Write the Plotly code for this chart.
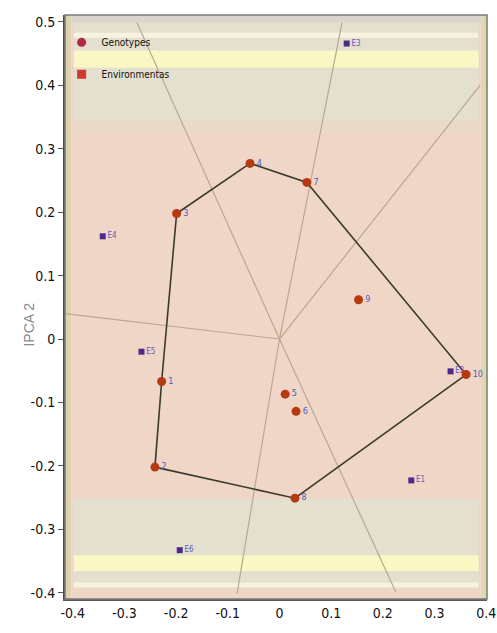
import plotly.graph_objects as go

# Genotypes (IPCA1, IPCA2)
gen_labels = ["1", "2", "3", "4", "5", "6", "7", "8", "9", "10"]
gen_x = [-0.228, -0.241, -0.199, -0.057, 0.011, 0.032, 0.053, 0.030, 0.153, 0.361]
gen_y = [-0.067, -0.202, 0.198, 0.277, -0.087, -0.114, 0.247, -0.251, 0.062, -0.056]

# Environments
env_labels = ["E3", "E4", "E5", "E6", "E2", "E1"]
env_x = [0.130, -0.342, -0.267, -0.193, 0.331, 0.255]
env_y = [0.466, 0.162, -0.020, -0.333, -0.051, -0.223]

# Polygon (convex hull) order of genotypes
hull_order = ["2", "1", "3", "4", "7", "10", "8", "2"]

# Ray end points (from origin)
ray_x = [-0.415, -0.276, 0.121, 0.388, 0.225, -0.082]
ray_y = [0.040, 0.499, 0.499, 0.400, -0.399, -0.401]

x_ticks = [-0.4, -0.3, -0.2, -0.1, 0, 0.1, 0.2, 0.3, 0.4]
y_ticks = [-0.4, -0.3, -0.2, -0.1, 0, 0.1, 0.2, 0.3, 0.4, 0.5]

TICKFONT = "DejaVu Sans Condensed, Liberation Sans Narrow, Liberation Sans, Arial"

fig = go.Figure()

# rays
rx, ry = [], []
for a, b in zip(ray_x, ray_y):
    rx += [0, a, None]
    ry += [0, b, None]
fig.add_trace(go.Scatter(x=rx, y=ry, mode="lines", line=dict(color="#b9a88f", width=1.2),
                         showlegend=False, hoverinfo="skip"))

# polygon
idx = {l: i for i, l in enumerate(gen_labels)}
hx = [gen_x[idx[l]] for l in hull_order]
hy = [gen_y[idx[l]] for l in hull_order]
fig.add_trace(go.Scatter(x=hx, y=hy, mode="lines", line=dict(color="#3a3a2e", width=1.6),
                         showlegend=False, hoverinfo="skip"))

# environments
fig.add_trace(go.Scatter(x=env_x, y=env_y, mode="markers+text", text=env_labels,
                         textposition="middle right", cliponaxis=False,
                         textfont=dict(color="#6a5ab8", size=8, family=TICKFONT),
                         marker=dict(symbol="square", size=6, color="#4b2a8a"),
                         showlegend=False))

# genotypes
fig.add_trace(go.Scatter(x=gen_x, y=gen_y, mode="markers+text", text=gen_labels,
                         textposition="middle right", cliponaxis=False,
                         textfont=dict(color="#4a5cc0", size=9, family=TICKFONT),
                         marker=dict(symbol="circle", size=9, color="#b53a12"),
                         showlegend=False))

# legend entries
fig.add_trace(go.Scatter(x=[None], y=[None], mode="markers", name="Genotypes",
                         marker=dict(symbol="circle", size=9, color="#b02848"), legendgroup="g"))
fig.add_trace(go.Scatter(x=[None], y=[None], mode="markers", name="Environmentas",
                         marker=dict(symbol="square", size=9, color="#d03a30"), legendgroup="e"))

# background bands
def band(x0, x1, y0, y1, color):
    fig.add_shape(type="rect", xref="x", yref="y", x0=x0, x1=x1, y0=y0, y1=y1,
                  fillcolor=color, line=dict(width=0), layer="below")

band(-0.415, 0.401, 0.499, 0.511, "#d9d4cc")
band(-0.398, 0.385, 0.345, 0.499, "#e3e0cf")
band(-0.398, 0.385, 0.325, 0.345, "#ead8c8")
band(-0.398, 0.385, 0.475, 0.483, "#f6f3de")
band(-0.398, 0.385, 0.428, 0.455, "#f9f8c4")
band(-0.398, 0.385, -0.393, -0.252, "#e3e0cf")
band(-0.398, 0.385, -0.366, -0.341, "#f9f8c4")
band(-0.398, 0.385, -0.392, -0.384, "#f6f3de")
band(-0.415, -0.405, -0.41, 0.511, "#dcd4a8")
band(0.391, 0.401, -0.41, 0.511, "#ded8b0")

fig.add_annotation(text="IPCA 2", xref="paper", yref="paper", x=-0.109, y=0.47,
                   textangle=-90, showarrow=False,
                   font=dict(color="#8a8a8a", size=14, family="Liberation Sans, Arial"))

fig.update_layout(
    width=497, height=633,
    margin=dict(l=65, r=10, t=15, b=34),
    paper_bgcolor="white",
    plot_bgcolor="#f0d6c6",
    font=dict(family=TICKFONT, color="#111"),
    legend=dict(x=-0.008, y=0.978, xanchor="left", yanchor="top",
                bgcolor="rgba(0,0,0,0)", font=dict(size=10, color="#111", family=TICKFONT),
                tracegroupgap=13, itemwidth=30),
    xaxis=dict(range=[-0.415, 0.4015], tickvals=x_ticks, ticktext=[f"{v:g}" for v in x_ticks],
               showgrid=False, zeroline=False, ticks="", showline=True, linecolor="#5a5a5a", linewidth=2,
               automargin=False, tickfont=dict(size=14, color="#111")),
    yaxis=dict(range=[-0.41, 0.511], tickvals=y_ticks, ticktext=[f"{v:g}" for v in y_ticks],
               showgrid=False, zeroline=False, ticks="outside", ticklen=5, tickcolor="#555",
               showline=True, linecolor="#4a4a4a", linewidth=2, automargin=False,
               tickfont=dict(size=14, color="#111")),
)
fig.add_shape(type="rect", xref="paper", yref="paper", x0=0, x1=1, y0=0, y1=1,
              line=dict(color="#7a7a7a", width=1.5), fillcolor="rgba(0,0,0,0)")

fig.write_html("out.html", config={"displayModeBar": False},
               post_script="document.body.style.margin='0px';document.body.style.overflow='hidden';")
